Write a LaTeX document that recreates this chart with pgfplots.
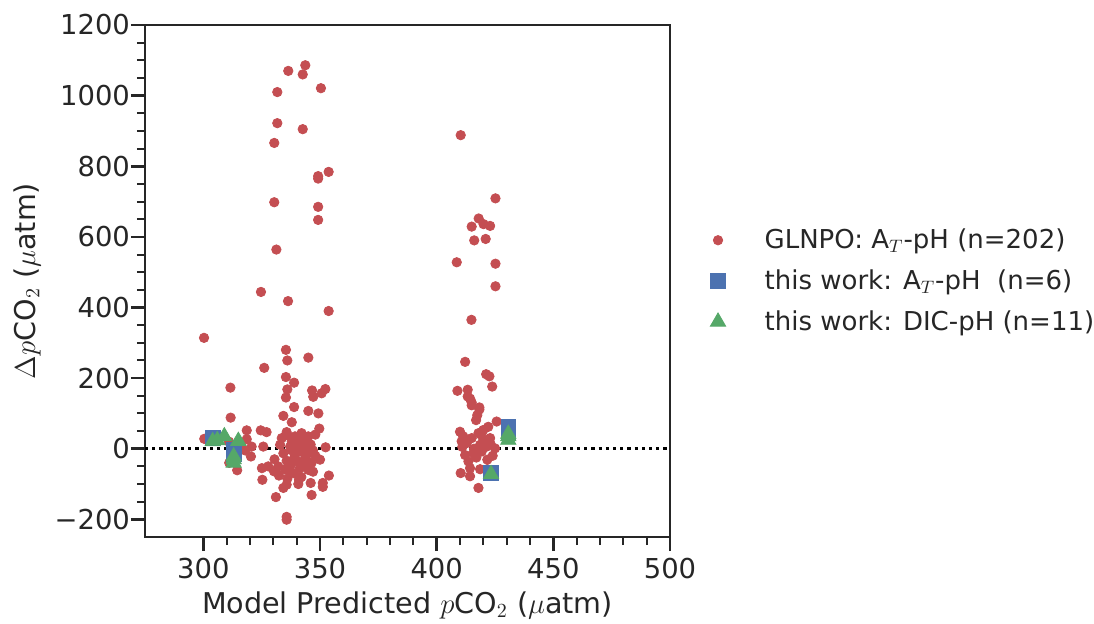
\documentclass[border=0pt]{standalone}
\usepackage{pgfplots}
\pgfplotsset{compat=1.18}
\usepackage{fontspec}
\setmainfont{DejaVu Sans}
\definecolor{sred}{HTML}{C44E52}
\definecolor{sblue}{HTML}{4C72B0}
\definecolor{sgreen}{HTML}{55A868}
\definecolor{txt}{HTML}{262626}
\begin{document}
\begin{tikzpicture}
\begin{axis}[
  name=ax,
  width=262.5pt, height=256pt, scale only axis,
  xmin=275, xmax=500, ymin=-250, ymax=1200,
  xtick={300,350,400,450,500}, minor x tick num=4,
  ytick={-200,0,200,400,600,800,1000,1200}, minor y tick num=3,
  xticklabels={300,350,400,450,500},
  yticklabels={−200,0,200,400,600,800,1000,1200},
  tick pos=left, tick align=outside,
  major tick length=7pt, minor tick length=4pt,
  every major tick/.style={line width=1.3pt, color=txt},
  every minor tick/.style={line width=1pt, color=txt},
  axis line style={line width=1.4pt, color=txt},
  xticklabel style={font=\fontsize{13.7}{16}\selectfont, text=txt},
  yticklabel style={font=\fontsize{13.7}{16}\selectfont, text=txt, xshift=3pt},
  xlabel={Model Predicted $p$CO$_2$ ($\mu$atm)},
  ylabel={$\Delta p$CO$_2$ ($\mu$atm)},
  every axis x label/.style={at={(axis description cs:0.5,-0.1328)}, anchor=center,
    font=\fontsize{14.3}{17}\selectfont, text=txt},
  every axis y label/.style={at={(axis description cs:-0.2248,0.5)}, anchor=center, rotate=90,
    font=\fontsize{14.3}{17}\selectfont, text=txt},
  legend style={at={(1.0,0.5)}, anchor=west, xshift=17pt, draw=none, fill=none,
    font=\fontsize{13}{15}\selectfont, text=txt, row sep=5pt, column sep=17.5pt},
  legend cell align=left,
]
\addplot[forget plot, black, line width=1.6pt, dash pattern=on 1.6pt off 2pt] coordinates {(275,0) (500,0)};
\addplot[only marks, mark=*, mark size=2.35pt, draw=sred, fill=sred] coordinates {
(343.7,1086) (336.4,1070) (342.6,1060) (331.7,1010) (350.4,1021) (331.7,922) (342.6,905) (330.4,866)
(353.7,784) (349.2,772) (349.2,765) (330.4,698) (349.2,685) (349.2,648) (331.3,564) (324.7,444)
(336.3,418) (353.7,390) (300.3,314) (335.4,280) (336,250) (345,258) (326.1,229) (335.4,203)
(338.9,187) (311.6,173) (336,168) (335.4,145) (346.6,165) (352.3,169) (350.7,157) (347.1,147)
(338.9,118) (345,107) (349.3,100) (311.7,88) (334.3,93) (337.9,75) (349.7,57) (318.6,52)
(324.6,52) (327.1,47) (335.7,47) (342.1,44) (339.3,35) (345,35) (333.6,30) (318.6,27)
(337.9,21) (342.1,21) (332.9,11) (337.2,6) (340.7,6) (344.3,6) (352.4,4) (320.7,6) (325.7,6)
(300.4,28) (320.4,-22) (334.3,-13) (339.3,-18) (343.6,-18) (330.5,-30) (335.7,-34) (340.7,-36)
(346.4,-40) (350,-31) (327.8,-50) (332.1,-50) (337.2,-50) (341.4,-55) (325.1,-55) (311.1,-40)
(314.5,-61) (330.3,-64) (335,-59) (332.4,-76) (325.3,-88) (353.8,-76) (351.2,-97) (351.2,-108)
(346,-97) (340.7,-100) (335.7,-102) (334.3,-111) (331.1,-137) (346.4,-131) (335.7,-193) (335.7,-201)
(340,15) (344,25) (346,12) (338,-5) (342,-8) (347,-5) (336,38) (341,30) (344,-28) (338,-40)
(345,-60) (339,-70) (336,-85) (342,-80) (348,-20) (311,20) (316,10) (318,-5)
(339,-25) (343,-45) (347,-65) (337,-65) (341,-88) (344,10) (348,40) (346,-10)
(410.3,888) (425.2,709) (418,652) (420.1,636) (415,629) (422.9,631) (416.1,590) (421,594)
(408.6,528) (425.2,524) (425.2,460) (414.9,365) (412.2,246) (421.2,211) (422.6,205) (423.8,176)
(408.9,164) (413.3,167) (413.3,148) (415,131) (418.3,117) (414.3,142) (415,123) (418.3,111)
(417.4,95) (416.9,81) (425.7,77) (422.1,62) (420,53) (410,48) (417.9,44) (411.4,35) (415,30)
(420,25) (422.9,30) (410.7,21) (412.9,16) (418.6,11) (421.4,6) (425,1) (412.2,-18) (415.7,-13)
(419.3,-8) (413.6,-36) (421.7,-31) (414.3,-55) (418.6,-58) (410.3,-69) (414.3,-78) (417.9,-111)
(421.7,-58) (419,40) (423,15) (416,0) (411,5) (424,-20) (417,-25)
};
\addlegendentry{GLNPO: A$_T$-pH (n=202)}
\addplot[only marks, mark=square*, mark size=3.7pt, draw=sblue, fill=sblue] coordinates {
(304,31) (313,-3) (313,-15) (430.7,62) (430.7,48) (423.3,-68)
};
\addlegendentry{this work: A$_T$-pH\ \ (n=6)}
\addplot[only marks, mark=triangle*, mark size=4.4pt, draw=sgreen, fill=sgreen] coordinates {
(304,21) (306,24) (309,35) (315,22) (313,-22) (313,-30) (313,-40) (430.7,25) (430.7,35) (430.7,42) (423.3,-72)
};
\addlegendentry{this work: DIC-pH (n=11)}
\end{axis}
\pgfresetboundingbox
\path ([shift={(-72.5pt,-43.5pt)}]ax.south west) rectangle ([shift={(212pt,12.5pt)}]ax.north east);
\end{tikzpicture}
\end{document}
